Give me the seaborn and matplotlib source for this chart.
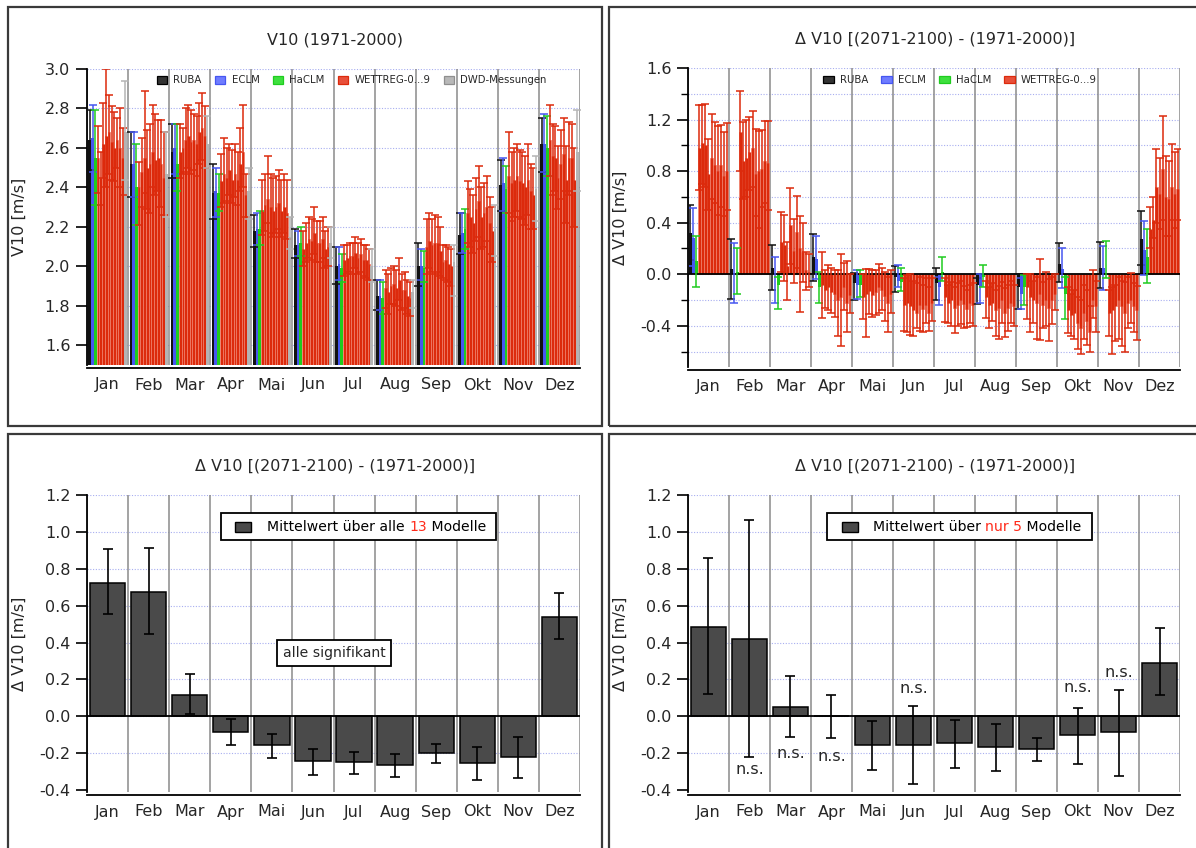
import numpy as np
import pandas as pd
import matplotlib
matplotlib.use("Agg")
import matplotlib.pyplot as plt
from matplotlib.patches import Patch, Rectangle
from matplotlib.ticker import MultipleLocator, FormatStrFormatter
import seaborn as sns

MONTHS = ["Jan", "Feb", "Mar", "Apr", "Mai", "Jun", "Jul", "Aug", "Sep", "Okt", "Nov", "Dez"]

# ---------------- V10 (1971-2000): monthly mean, min, max per model ----------------
RUBA_MEAN = [2.64, 2.52, 2.58, 2.37, 2.18, 2.11, 2.00, 1.85, 2.00, 2.16, 2.41, 2.62]
RUBA_LO   = [2.49, 2.35, 2.45, 2.24, 2.10, 2.04, 1.91, 1.78, 1.90, 2.06, 2.28, 2.48]
RUBA_HI   = [2.79, 2.68, 2.72, 2.52, 2.26, 2.19, 2.10, 1.93, 2.12, 2.27, 2.54, 2.75]
ECLM_MEAN = [2.65, 2.52, 2.60, 2.38, 2.19, 2.11, 2.01, 1.85, 2.00, 2.17, 2.42, 2.62]
ECLM_LO   = [2.48, 2.35, 2.47, 2.25, 2.11, 2.05, 1.93, 1.78, 1.93, 2.07, 2.28, 2.48]
ECLM_HI   = [2.82, 2.68, 2.72, 2.50, 2.27, 2.18, 2.10, 1.93, 2.09, 2.27, 2.55, 2.77]
HACLM_MEAN = [2.55, 2.40, 2.52, 2.37, 2.19, 2.12, 1.99, 1.84, 1.99, 2.19, 2.39, 2.60]
HACLM_LO   = [2.31, 2.21, 2.38, 2.28, 2.11, 2.05, 1.92, 1.76, 1.92, 2.09, 2.27, 2.46]
HACLM_HI   = [2.79, 2.62, 2.72, 2.47, 2.28, 2.20, 2.06, 1.92, 2.08, 2.29, 2.51, 2.76]
DWD_MEAN = [2.68, 2.47, 2.62, 2.38, 2.15, 2.12, 2.00, 1.87, 2.02, 2.19, 2.39, 2.58]
DWD_LO   = [2.44, 2.25, 2.50, 2.24, 2.09, 2.04, 1.92, 1.79, 1.85, 2.05, 2.23, 2.38]
DWD_HI   = [2.94, 2.68, 2.76, 2.50, 2.25, 2.20, 2.09, 1.93, 2.11, 2.31, 2.56, 2.79]

# WETTREG runs 0..9, one row per month
WR_MEAN = [
    [2.55, 2.45, 2.62, 2.66, 2.68, 2.63, 2.60, 2.64, 2.60, 2.55],
    [2.40, 2.48, 2.55, 2.50, 2.52, 2.58, 2.54, 2.55, 2.52, 2.45],
    [2.58, 2.60, 2.64, 2.66, 2.63, 2.64, 2.62, 2.68, 2.70, 2.66],
    [2.43, 2.47, 2.45, 2.49, 2.44, 2.47, 2.44, 2.52, 2.58, 2.36],
    [2.28, 2.31, 2.34, 2.30, 2.28, 2.30, 2.32, 2.28, 2.30, 2.27],
    [2.09, 2.12, 2.14, 2.13, 2.17, 2.12, 2.12, 2.14, 2.09, 2.10],
    [2.03, 2.04, 2.05, 2.05, 2.07, 2.04, 2.06, 2.03, 2.03, 2.01],
    [1.89, 1.87, 1.90, 1.91, 1.89, 1.93, 1.88, 1.88, 1.85, 1.84],
    [2.10, 2.13, 2.11, 2.12, 2.12, 2.08, 2.02, 2.03, 2.01, 2.00],
    [2.27, 2.25, 2.22, 2.29, 2.33, 2.25, 2.27, 2.30, 2.22, 2.18],
    [2.46, 2.42, 2.44, 2.46, 2.43, 2.42, 2.40, 2.44, 2.38, 2.36],
    [2.64, 2.56, 2.55, 2.45, 2.52, 2.57, 2.44, 2.55, 2.55, 2.44],
]
WR_LO = [
    [2.37, 2.31, 2.45, 2.40, 2.47, 2.44, 2.43, 2.50, 2.40, 2.36],
    [2.21, 2.30, 2.37, 2.29, 2.27, 2.40, 2.36, 2.38, 2.30, 2.26],
    [2.45, 2.47, 2.48, 2.50, 2.47, 2.49, 2.46, 2.52, 2.54, 2.50],
    [2.30, 2.32, 2.33, 2.36, 2.32, 2.35, 2.31, 2.38, 2.40, 2.25],
    [2.16, 2.18, 2.22, 2.17, 2.15, 2.17, 2.19, 2.15, 2.17, 2.14],
    [2.00, 2.02, 2.04, 2.03, 2.06, 2.02, 2.02, 2.04, 1.99, 2.00],
    [1.95, 1.96, 1.97, 1.96, 1.99, 1.96, 1.97, 1.95, 1.94, 1.93],
    [1.79, 1.76, 1.81, 1.81, 1.80, 1.83, 1.78, 1.79, 1.76, 1.75],
    [1.96, 1.99, 1.97, 1.96, 1.97, 1.95, 1.94, 1.93, 1.92, 1.90],
    [2.12, 2.10, 2.07, 2.13, 2.15, 2.09, 2.10, 2.13, 2.06, 2.02],
    [2.27, 2.23, 2.25, 2.28, 2.25, 2.24, 2.21, 2.26, 2.19, 2.19],
    [2.46, 2.36, 2.38, 2.29, 2.34, 2.38, 2.22, 2.36, 2.38, 2.20],
]
WR_HI = [
    [2.71, 2.58, 2.83, 3.00, 2.87, 2.81, 2.78, 2.75, 2.80, 2.70],
    [2.53, 2.65, 2.89, 2.69, 2.72, 2.82, 2.77, 2.74, 2.74, 2.68],
    [2.72, 2.70, 2.80, 2.82, 2.79, 2.77, 2.76, 2.83, 2.88, 2.81],
    [2.57, 2.65, 2.60, 2.62, 2.59, 2.62, 2.58, 2.70, 2.82, 2.47],
    [2.44, 2.47, 2.56, 2.47, 2.45, 2.46, 2.49, 2.44, 2.47, 2.44],
    [2.18, 2.22, 2.25, 2.24, 2.30, 2.23, 2.23, 2.25, 2.18, 2.20],
    [2.11, 2.11, 2.12, 2.12, 2.15, 2.12, 2.14, 2.11, 2.11, 2.09],
    [1.98, 1.96, 1.99, 2.00, 1.98, 2.04, 1.96, 1.97, 1.93, 1.92],
    [2.24, 2.27, 2.24, 2.26, 2.25, 2.20, 2.11, 2.11, 2.10, 2.09],
    [2.43, 2.39, 2.36, 2.45, 2.51, 2.40, 2.42, 2.46, 2.35, 2.30],
    [2.68, 2.58, 2.60, 2.62, 2.59, 2.58, 2.56, 2.62, 2.52, 2.50],
    [2.82, 2.72, 2.71, 2.61, 2.69, 2.75, 2.61, 2.73, 2.72, 2.60],
]

# ---------------- Δ V10 [(2071-2100) - (1971-2000)] per model ----------------
D_RUBA_MEAN = [0.32, 0.04, 0.05, 0.13, -0.07, -0.02, -0.07, -0.08, -0.10, 0.08, 0.05, 0.27]
D_RUBA_LO   = [0.11, -0.19, -0.12, -0.05, -0.20, -0.14, -0.20, -0.23, -0.27, -0.06, -0.11, 0.07]
D_RUBA_HI   = [0.54, 0.27, 0.23, 0.31, 0.01, 0.06, 0.05, -0.03, 0.00, 0.24, 0.25, 0.49]
D_ECLM_MEAN = [0.28, 0.00, 0.00, 0.12, -0.08, -0.05, -0.10, -0.10, -0.15, 0.04, 0.05, 0.19]
D_ECLM_LO   = [0.06, -0.22, -0.22, -0.04, -0.19, -0.10, -0.24, -0.22, -0.27, -0.11, -0.12, -0.01]
D_ECLM_HI   = [0.51, 0.24, 0.13, 0.30, 0.03, 0.07, -0.02, 0.00, -0.03, 0.20, 0.22, 0.41]
D_HACLM_MEAN = [0.10, 0.02, -0.08, -0.10, -0.08, -0.06, 0.02, -0.02, -0.10, -0.15, 0.00, 0.13]
D_HACLM_LO   = [-0.10, -0.15, -0.27, -0.22, -0.18, -0.13, -0.05, -0.10, -0.24, -0.35, -0.03, -0.07]
D_HACLM_HI   = [0.30, 0.20, -0.02, 0.02, 0.03, 0.05, 0.13, 0.07, -0.01, -0.02, 0.26, 0.35]

DWR_MEAN = [
    [0.98, 1.02, 1.00, 0.78, 0.90, 0.85, 0.80, 0.85, 0.76, 0.80],
    [1.10, 0.88, 0.90, 0.95, 0.98, 0.78, 0.80, 0.82, 0.88, 0.86],
    [0.25, 0.23, 0.06, 0.38, 0.18, 0.33, 0.20, 0.17, 0.03, 0.02],
    [-0.08, -0.12, -0.10, -0.14, -0.15, -0.20, -0.18, -0.10, -0.22, -0.16],
    [-0.18, -0.15, -0.13, -0.16, -0.14, -0.10, -0.12, -0.17, -0.22, -0.15],
    [-0.24, -0.22, -0.25, -0.28, -0.30, -0.24, -0.27, -0.24, -0.30, -0.22],
    [-0.18, -0.22, -0.20, -0.26, -0.24, -0.20, -0.23, -0.27, -0.22, -0.24],
    [-0.18, -0.24, -0.22, -0.28, -0.26, -0.20, -0.30, -0.26, -0.22, -0.25],
    [-0.10, -0.18, -0.20, -0.22, -0.15, -0.24, -0.20, -0.26, -0.20, -0.15],
    [-0.28, -0.32, -0.30, -0.38, -0.42, -0.30, -0.36, -0.45, -0.20, -0.25],
    [-0.30, -0.28, -0.25, -0.20, -0.25, -0.30, -0.22, -0.20, -0.25, -0.28],
    [0.35, 0.42, 0.68, 0.62, 0.82, 0.60, 0.58, 0.68, 0.62, 0.66],
]
DWR_LO = [
    [0.65, 0.70, 0.68, 0.50, 0.58, 0.55, 0.46, 0.52, 0.45, 0.50],
    [0.80, 0.58, 0.60, 0.65, 0.68, 0.45, 0.36, 0.52, 0.55, 0.50],
    [0.02, -0.05, -0.20, 0.08, -0.07, 0.05, -0.29, -0.06, -0.12, -0.10],
    [-0.34, -0.26, -0.28, -0.30, -0.33, -0.48, -0.56, -0.28, -0.45, -0.30],
    [-0.35, -0.49, -0.31, -0.33, -0.32, -0.30, -0.28, -0.36, -0.45, -0.30],
    [-0.44, -0.45, -0.47, -0.48, -0.42, -0.44, -0.45, -0.38, -0.44, -0.36],
    [-0.37, -0.38, -0.40, -0.46, -0.40, -0.39, -0.42, -0.41, -0.38, -0.40],
    [-0.34, -0.42, -0.36, -0.48, -0.50, -0.38, -0.49, -0.44, -0.38, -0.40],
    [-0.35, -0.45, -0.38, -0.50, -0.51, -0.42, -0.40, -0.52, -0.39, -0.28],
    [-0.46, -0.48, -0.50, -0.58, -0.62, -0.50, -0.55, -0.60, -0.34, -0.45],
    [-0.48, -0.62, -0.52, -0.50, -0.56, -0.60, -0.42, -0.38, -0.45, -0.51],
    [0.20, 0.28, 0.40, 0.35, 0.42, 0.30, 0.30, 0.42, 0.36, 0.42],
]
DWR_HI = [
    [1.31, 1.31, 1.32, 1.05, 1.24, 1.18, 1.15, 1.16, 1.10, 1.17],
    [1.42, 1.18, 1.20, 1.22, 1.27, 1.13, 1.11, 1.12, 1.19, 1.19],
    [0.48, 0.46, 0.25, 0.67, 0.43, 0.61, 0.45, 0.40, 0.17, 0.16],
    [0.17, 0.03, 0.07, 0.05, 0.03, 0.03, 0.16, 0.09, 0.10, 0.00],
    [0.00, 0.04, 0.04, 0.03, 0.03, 0.08, 0.05, 0.02, -0.02, 0.03],
    [-0.03, -0.01, 0.00, -0.05, -0.07, -0.02, -0.08, -0.03, -0.10, -0.03],
    [-0.03, -0.08, -0.06, -0.10, -0.07, -0.05, -0.09, -0.12, -0.08, -0.07],
    [-0.05, -0.10, -0.07, -0.12, -0.09, -0.06, -0.11, -0.08, -0.05, -0.08],
    [0.00, 0.00, -0.05, -0.02, 0.12, -0.06, 0.02, -0.04, -0.02, 0.00],
    [-0.10, -0.15, -0.12, -0.18, -0.20, -0.08, -0.12, -0.25, 0.03, -0.05],
    [-0.12, -0.10, -0.08, -0.02, -0.05, -0.06, -0.02, 0.01, -0.07, -0.09],
    [0.52, 0.60, 0.97, 0.90, 1.23, 0.92, 0.88, 1.01, 0.95, 0.97],
]

# ---------------- ensemble means of the change signal ----------------
ALL13_MEAN = [0.725, 0.673, 0.114, -0.085, -0.155, -0.244, -0.247, -0.263, -0.198, -0.251, -0.218, 0.540]
ALL13_LO   = [0.554, 0.446, 0.011, -0.157, -0.224, -0.318, -0.312, -0.328, -0.251, -0.343, -0.334, 0.420]
ALL13_HI   = [0.908, 0.911, 0.227, -0.014, -0.094, -0.175, -0.193, -0.204, -0.148, -0.166, -0.112, 0.669]

SEL5_MEAN = [0.485, 0.419, 0.049, 0.000, -0.155, -0.155, -0.144, -0.166, -0.177, -0.103, -0.087, 0.291]
SEL5_LO   = [0.121, -0.220, -0.110, -0.115, -0.292, -0.368, -0.280, -0.298, -0.244, -0.258, -0.325, 0.114]
SEL5_HI   = [0.861, 1.065, 0.218, 0.117, -0.027, 0.054, -0.018, -0.041, -0.117, 0.043, 0.141, 0.480]
NS_MONTHS = ["Feb", "Mar", "Apr", "Jun", "Okt", "Nov"]
NS_Y      = [-0.29, -0.20, -0.215, 0.153, 0.159, 0.24]

# ---------------- styling ----------------
C_RUBA, C_ECLM, C_HACLM, C_WR, C_DWD = "#111111", "#4656f0", "#1fcc1f", "#dc2a0c", "#b4b4b4"
WR_NAMES = [f"WETTREG-{k}" for k in range(10)]
FS = 11.5
FS_BOX = 10.1

sns.set_style("white")
plt.rcParams["font.family"] = ["DejaVu Sans"]
plt.rcParams["axes.unicode_minus"] = False

W, H = 1196, 848
fig = plt.figure(figsize=(W / 100, H / 100), dpi=100)


def add_axes_px(x0, y0, x1, y1):
    return fig.add_axes([x0 / W, 1 - y1 / H, (x1 - x0) / W, (y1 - y0) / H])


def frame_px(x0, y0, x1, y1):
    fig.add_artist(Rectangle((x0 / W, 1 - y1 / H), (x1 - x0) / W, (y1 - y0) / H,
                             transform=fig.transFigure, fill=False, ec="#3a3a3a", lw=1.6))


def style_axes(ax, ylim, major, minor, grid_vals, ylabel, title, zero=False):
    ax.set_xlim(-0.5, 11.5)
    ax.set_ylim(*ylim)
    for s in ("top", "right"):
        ax.spines[s].set_visible(False)
    ax.spines["left"].set_color("black")
    ax.spines["left"].set_linewidth(1.3)
    ax.spines["bottom"].set_color("black")
    ax.spines["bottom"].set_linewidth(1.3)
    ax.spines["bottom"].set_position(("outward", 2))
    ax.set_xticks(np.arange(-0.5, 12, 1))
    ax.set_xticklabels([])
    ax.set_xticks(np.arange(12), minor=True)
    ax.set_xticklabels(MONTHS, minor=True)
    ax.tick_params(axis="x", which="major", direction="out", length=8, width=1.3, color="black")
    ax.tick_params(axis="x", which="minor", length=0, pad=7, labelsize=FS)
    ax.yaxis.set_major_locator(MultipleLocator(major))
    ax.yaxis.set_major_formatter(FormatStrFormatter("%.1f"))
    if minor:
        ax.yaxis.set_minor_locator(MultipleLocator(minor))
    ax.tick_params(axis="y", which="major", direction="out", length=8, width=1.2,
                   labelsize=FS, pad=4, left=True, color="black")
    ax.tick_params(axis="y", which="minor", direction="out", length=5, width=1.0,
                   left=True, color="black")
    ax.set_xlabel("")
    ax.set_ylabel(ylabel, fontsize=FS)
    ax.yaxis.set_label_coords(-0.122, 0.5)
    for v in grid_vals:
        ax.axhline(v, color="#a8aef0", ls=(0, (1, 1.5)), lw=0.8, zorder=0.2)
    for b in np.arange(-0.5, 12, 1):
        ax.axvline(b, color="#8a8a8a", lw=1.1, zorder=0.4)
    if zero:
        ax.axhline(0, color="black", lw=1.3, zorder=2.5)
    ax.text(0.503, 1.098, title, transform=ax.transAxes, ha="center", va="center", fontsize=FS)


def long_frame(series):
    rows = []
    for name, means in series:
        for m, v in zip(MONTHS, means):
            rows.append({"month": m, "series": name, "value": v})
    return pd.DataFrame(rows)


def model_bars(ax, series, colors, width):
    """series: list of (name, mean, lo, hi) with 12 monthly values each."""
    df = long_frame([(n, m) for n, m, _, _ in series])
    order = [s[0] for s in series]
    sns.barplot(data=df, x="month", y="value", hue="series", order=MONTHS, hue_order=order,
                palette=colors, width=width, gap=0, errorbar=None, legend=False,
                saturation=1, linewidth=0, ax=ax, zorder=1)
    for cont, (name, mean, lo, hi) in zip(ax.containers, series):
        col = colors[name]
        xs, ms, los, his = [], [], [], []
        for p in cont.patches:
            xc = p.get_x() + p.get_width() / 2
            k = int(round(xc))
            xs.append(xc)
            ms.append(mean[k]); los.append(lo[k]); his.append(hi[k])
            if name.startswith("WETTREG"):
                p.set_edgecolor("#f0806c")
                p.set_linewidth(0.5)
        ms, los, his = np.array(ms), np.array(los), np.array(his)
        ax.errorbar(xs, ms, yerr=[ms - los, his - ms], fmt="none", ecolor=col,
                    elinewidth=1.1, capsize=2.8, capthick=1.1, zorder=3)


def legend_patches(ax, entries, anchor):
    handles = [Patch(facecolor=fc, edgecolor=ec, linewidth=0.9) for _, fc, ec in entries]
    labels = [lab for lab, _, _ in entries]
    ax.legend(handles, labels, ncol=len(entries), loc="center", bbox_to_anchor=anchor,
              frameon=False, fontsize=7.3, handlelength=1.05, handleheight=0.8,
              handletextpad=0.6, columnspacing=1.3, borderaxespad=0)


# ---------------- panel frames ----------------
frame_px(8, 7, 602, 426)
frame_px(609, 7, 1205, 426)
frame_px(8, 434, 602, 855)
frame_px(609, 434, 1205, 855)

# ---------------- top left: absolute values ----------------
ax1 = add_axes_px(87, 69, 580, 365)
wr_mean_t = np.array(WR_MEAN).T
wr_lo_t = np.array(WR_LO).T
wr_hi_t = np.array(WR_HI).T
series1 = [("RUBA", RUBA_MEAN, RUBA_LO, RUBA_HI),
           ("ECLM", ECLM_MEAN, ECLM_LO, ECLM_HI),
           ("HaCLM", HACLM_MEAN, HACLM_LO, HACLM_HI)]
series1 += [(WR_NAMES[k], wr_mean_t[k], wr_lo_t[k], wr_hi_t[k]) for k in range(10)]
series1 += [("DWD-Messungen", DWD_MEAN, DWD_LO, DWD_HI)]
colors1 = {"RUBA": C_RUBA, "ECLM": C_ECLM, "HaCLM": C_HACLM, "DWD-Messungen": C_DWD}
colors1.update({n: C_WR for n in WR_NAMES})
model_bars(ax1, series1, colors1, width=0.93)
style_axes(ax1, (1.5, 3.0), 0.2, None, np.arange(1.6, 3.01, 0.2), "V10 [m/s]", "V10 (1971-2000)")
legend_patches(ax1, [("RUBA", "#333333", "black"), ("ECLM", "#6f7cff", C_ECLM),
                     ("HaCLM", "#3ee03e", C_HACLM), ("WETTREG-0...9", "#e8503a", C_WR),
                     ("DWD-Messungen", "#b8b8b8", "#8f8f8f")], (0.537, 0.962))

# ---------------- top right: change per model ----------------
ax2 = add_axes_px(688, 68, 1180, 367)
dwr_mean_t = np.array(DWR_MEAN).T
dwr_lo_t = np.array(DWR_LO).T
dwr_hi_t = np.array(DWR_HI).T
series2 = [("RUBA", D_RUBA_MEAN, D_RUBA_LO, D_RUBA_HI),
           ("ECLM", D_ECLM_MEAN, D_ECLM_LO, D_ECLM_HI),
           ("HaCLM", D_HACLM_MEAN, D_HACLM_LO, D_HACLM_HI)]
series2 += [(WR_NAMES[k], dwr_mean_t[k], dwr_lo_t[k], dwr_hi_t[k]) for k in range(10)]
model_bars(ax2, series2, colors1, width=0.97)
style_axes(ax2, (-0.72, 1.6), 0.4, 0.2, np.arange(-0.6, 1.61, 0.2), "\u0394 V10 [m/s]",
           "\u0394 V10 [(2071-2100) - (1971-2000)]", zero=True)
legend_patches(ax2, [("RUBA", "#333333", "black"), ("ECLM", "#6f7cff", C_ECLM),
                     ("HaCLM", "#3ee03e", C_HACLM), ("WETTREG-0...9", "#e8503a", C_WR)],
               (0.553, 0.96))


# ---------------- bottom: ensemble means ----------------
def mean_panel(ax, mean, lo, hi):
    sns.barplot(x=MONTHS, y=mean, color="#4a4a4a", edgecolor="black", linewidth=1.1,
                width=0.86, saturation=1, errorbar=None, ax=ax, zorder=1)
    m, l, h = np.array(mean), np.array(lo), np.array(hi)
    ax.errorbar(np.arange(12), m, yerr=[m - l, h - m], fmt="none", ecolor="black",
                elinewidth=1.2, capsize=3.5, capthick=1.2, zorder=3)
    style_axes(ax, (-0.41, 1.2), 0.2, None, np.arange(-0.2, 1.21, 0.2), "\u0394 V10 [m/s]",
               "\u0394 V10 [(2071-2100) - (1971-2000)]", zero=True)


def mean_legend(ax, box, marker, text_x, parts):
    x0, x1, y0, y1 = box
    ax.add_patch(Rectangle((x0, y0), x1 - x0, y1 - y0, transform=ax.transAxes,
                           fc="white", ec="black", lw=1.3, zorder=5, clip_on=False))
    mx, my, mw, mh = marker
    ax.add_patch(Rectangle((mx, my), mw, mh, transform=ax.transAxes,
                           fc="#4a4a4a", ec="black", lw=1.0, zorder=6, clip_on=False))
    prev = ax.text(text_x, (y0 + y1) / 2, parts[0][0], color=parts[0][1], transform=ax.transAxes,
                   ha="left", va="center", fontsize=FS_BOX, zorder=6)
    for txt, col in parts[1:]:
        prev = ax.annotate(txt, xy=(1, 0), xycoords=prev, xytext=(0, 0), textcoords="offset points",
                           ha="left", va="bottom", color=col, fontsize=FS_BOX, zorder=6)


ax3 = add_axes_px(87, 495, 580, 792)
mean_panel(ax3, ALL13_MEAN, ALL13_LO, ALL13_HI)
mean_legend(ax3, (0.272, 0.830, 0.848, 0.939), (0.300, 0.875, 0.0325, 0.034), 0.365,
            [("Mittelwert \u00fcber alle ", "black"), ("13", "#ff2a1a"), (" Modelle", "black")])
ax3.text(0.502, 0.468, "alle signifikant", transform=ax3.transAxes, ha="center", va="center",
         fontsize=FS_BOX, zorder=6,
         bbox=dict(boxstyle="square,pad=0.4", fc="white", ec="black", lw=1.3))

ax4 = add_axes_px(688, 495, 1180, 792)
mean_panel(ax4, SEL5_MEAN, SEL5_LO, SEL5_HI)
mean_legend(ax4, (0.283, 0.821, 0.848, 0.939), (0.313, 0.875, 0.0325, 0.034), 0.376,
            [("Mittelwert \u00fcber ", "black"), ("nur 5", "#ff2a1a"), (" Modelle", "black")])
for m, y in zip(NS_MONTHS, NS_Y):
    ax4.text(MONTHS.index(m), y, "n.s.", ha="center", va="center", fontsize=FS, zorder=6)

fig.savefig("out.png", dpi=100)
